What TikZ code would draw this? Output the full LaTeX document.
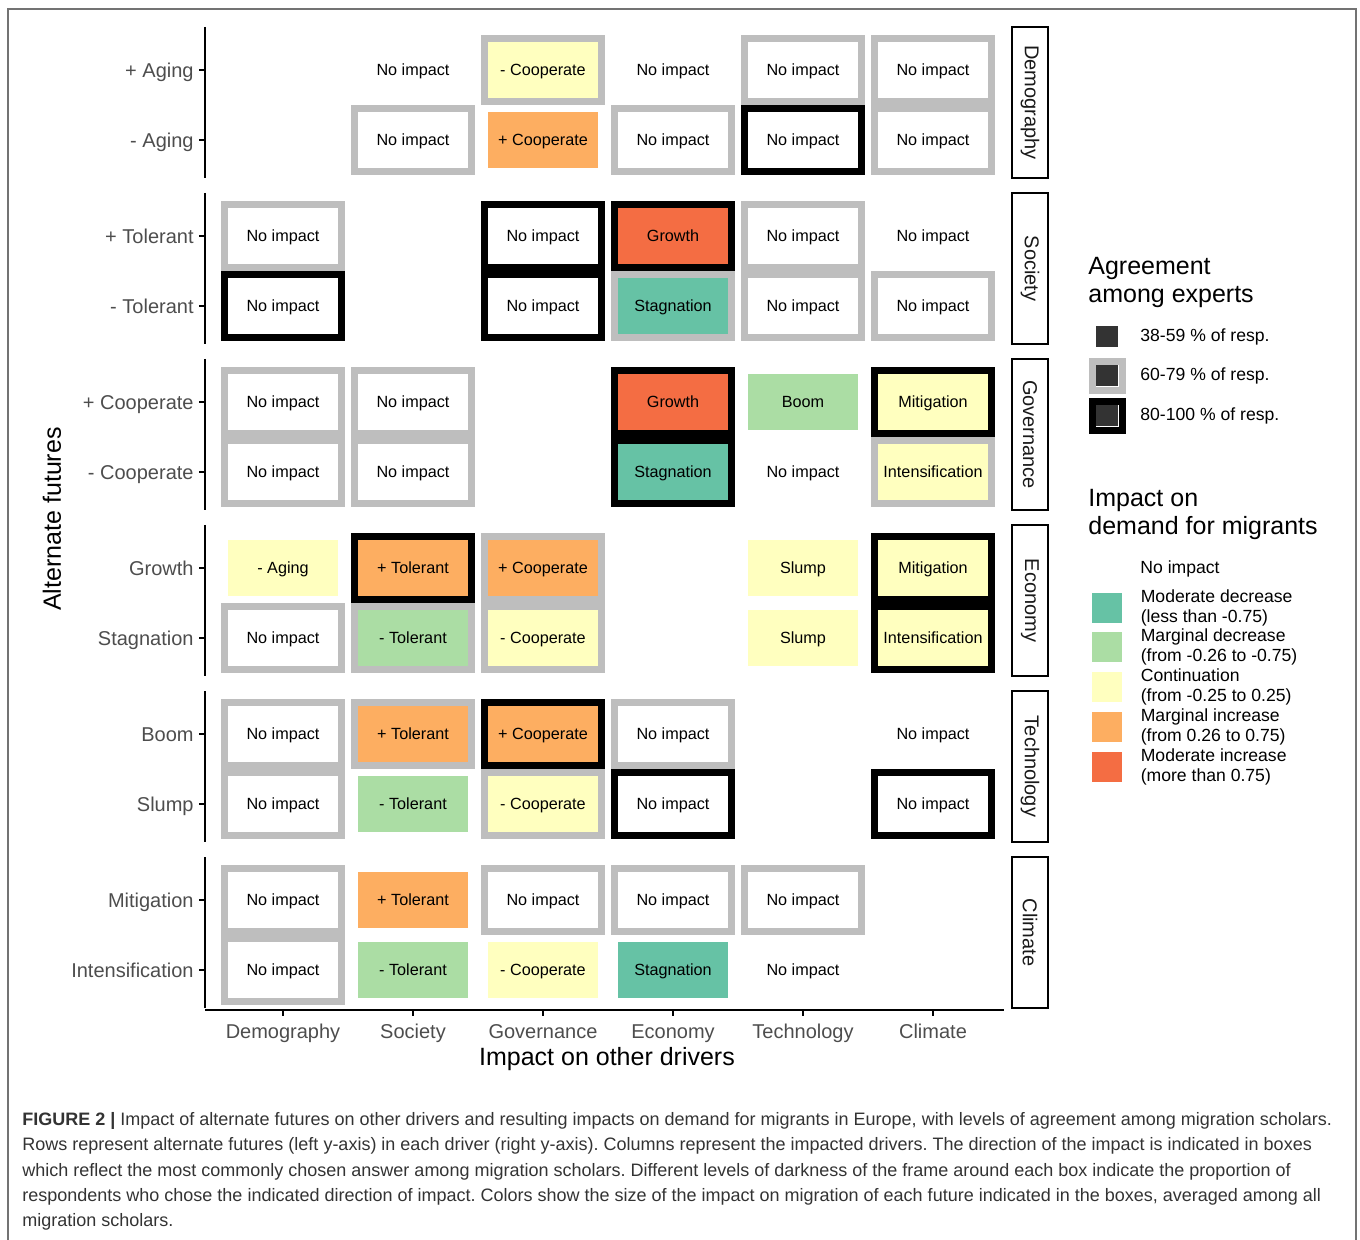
\documentclass[tikz,border=0pt]{standalone}
\usepackage{fontspec}
\setmainfont{Liberation Sans}
\usetikzlibrary{positioning}

\definecolor{modDec}{HTML}{66C2A5}
\definecolor{marDec}{HTML}{ABDDA4}
\definecolor{contin}{HTML}{FFFFBF}
\definecolor{marInc}{HTML}{FDAE61}
\definecolor{modInc}{HTML}{F46D43}
\definecolor{agrMid}{HTML}{BEBEBE}
\definecolor{axisTxt}{HTML}{4D4D4D}
\definecolor{keyDark}{HTML}{333333}

\tikzset{
  cellframe/.style={minimum width=58.5pt, minimum height=31.5pt, line width=3.5pt, inner sep=0pt},
  cellbox/.style={minimum width=55pt, minimum height=28pt, inner sep=0pt, text height=5.8pt, text depth=0pt,
    font=\fontsize{8.1}{9}\selectfont},
  rowlabel/.style={anchor=east, inner sep=0pt, text height=7.2pt, text depth=0pt, text=axisTxt,
    font=\fontsize{10}{12}\selectfont},
  collabel/.style={inner sep=0pt, text height=7.2pt, text depth=0pt, text=axisTxt, font=\fontsize{10}{12}\selectfont},
  axisline/.style={line width=1pt},
  axistick/.style={line width=0.7pt},
  stripbox/.style={draw, line width=0.8pt, rotate=-90, minimum width=75.5pt, minimum height=18pt,
    inner sep=0pt, text=black!90, font=\fontsize{10}{12}\selectfont},
  title/.style={font=\fontsize{12.5}{14}\selectfont, align=left},
  keylabel/.style={font=\fontsize{8.8}{10}\selectfont, align=left},
}

\begin{document}
\begin{tikzpicture}[x=0.5pt, y=-0.5pt]
\useasboundingbox (0,0) rectangle (1360,1240);
\draw[line width=0.8pt, draw=black!55] (8,9) rectangle (1356,1260);

% left axis, one piece per driver
\foreach \drv [count=\p] in {Demography, Society, Governance, Economy, Technology, Climate} {
  \draw[axisline] (205,{27+166*(\p-1)}) -- (205,{178+166*(\p-1)});
  \node[stripbox] (strip\p) at (1030,{102.5+166*(\p-1)}) {\drv};
}

% row labels
\foreach \fut [count=\i from 0] in {+ Aging, - Aging, + Tolerant, - Tolerant, + Cooperate, - Cooperate,
    Growth, Stagnation, Boom, Slump, Mitigation, Intensification} {
  \pgfmathsetmacro{\yy}{70+166*int(\i/2)+70*mod(\i,2)}
  \node[rowlabel] (row\i) at (194,\yy) {\fut};
  \draw[axistick] (199,\yy) -- (205,\yy);
}

% bottom axis
\draw[axisline] (205,1009.5) -- (1004,1009.5);
\foreach \drv [count=\c] in {Demography, Society, Governance, Economy, Technology, Climate} {
  \draw[axistick] ({153+130*\c},1010) -- ({153+130*\c},1016);
  \node[collabel] (col\c) at ({153+130*\c},1031) {\drv};
}
\node[font=\fontsize{12.5}{14}\selectfont] (xtitle) at (607,1059) {Impact on other drivers};
\node[font=\fontsize{12.5}{14}\selectfont, rotate=90] (ytitle) at (52,519) {Alternate futures};

% cells: panel/row/column/text/fill/frame
\foreach \p/\r/\c/\txt/\fc/\fr in {
  1/1/2/No impact/white/none, 1/1/3/- Cooperate/contin/agrMid, 1/1/4/No impact/white/none,
  1/1/5/No impact/white/agrMid, 1/1/6/No impact/white/agrMid,
  1/2/2/No impact/white/agrMid, 1/2/3/+ Cooperate/marInc/none, 1/2/4/No impact/white/agrMid,
  1/2/5/No impact/white/black, 1/2/6/No impact/white/agrMid,
  2/1/1/No impact/white/agrMid, 2/1/3/No impact/white/black, 2/1/4/Growth/modInc/black,
  2/1/5/No impact/white/agrMid, 2/1/6/No impact/white/none,
  2/2/1/No impact/white/black, 2/2/3/No impact/white/black, 2/2/4/Stagnation/modDec/agrMid,
  2/2/5/No impact/white/agrMid, 2/2/6/No impact/white/agrMid,
  3/1/1/No impact/white/agrMid, 3/1/2/No impact/white/agrMid, 3/1/4/Growth/modInc/black,
  3/1/5/Boom/marDec/none, 3/1/6/Mitigation/contin/black,
  3/2/1/No impact/white/agrMid, 3/2/2/No impact/white/agrMid, 3/2/4/Stagnation/modDec/black,
  3/2/5/No impact/white/none, 3/2/6/Intensification/contin/agrMid,
  4/1/1/- Aging/contin/none, 4/1/2/+ Tolerant/marInc/black, 4/1/3/+ Cooperate/marInc/agrMid,
  4/1/5/Slump/contin/none, 4/1/6/Mitigation/contin/black,
  4/2/1/No impact/white/agrMid, 4/2/2/- Tolerant/marDec/agrMid, 4/2/3/- Cooperate/contin/agrMid,
  4/2/5/Slump/contin/none, 4/2/6/Intensification/contin/black,
  5/1/1/No impact/white/agrMid, 5/1/2/+ Tolerant/marInc/agrMid, 5/1/3/+ Cooperate/marInc/black,
  5/1/4/No impact/white/agrMid, 5/1/6/No impact/white/none,
  5/2/1/No impact/white/agrMid, 5/2/2/- Tolerant/marDec/none, 5/2/3/- Cooperate/contin/agrMid,
  5/2/4/No impact/white/black, 5/2/6/No impact/white/black,
  6/1/1/No impact/white/agrMid, 6/1/2/+ Tolerant/marInc/none, 6/1/3/No impact/white/agrMid,
  6/1/4/No impact/white/agrMid, 6/1/5/No impact/white/agrMid,
  6/2/1/No impact/white/agrMid, 6/2/2/- Tolerant/marDec/none, 6/2/3/- Cooperate/contin/none,
  6/2/4/Stagnation/modDec/none, 6/2/5/No impact/white/none} {
  \node[cellframe, draw=\fr] (f-\p-\r-\c) at ({153+130*\c},{166*\p+70*\r-166}) {};
  \node[cellbox, fill=\fc] (c-\p-\r-\c) at (f-\p-\r-\c.center) {\txt};
}

% legend: agreement
\node[title, anchor=north west, inner sep=0pt] (agrtitle) at (1088,257) {Agreement\\among experts};
\node[fill=keyDark, minimum width=11pt, minimum height=10.5pt, inner sep=0pt] (ak1) at (1107,337) {};
\node[cellframe, draw=agrMid, minimum width=15pt, minimum height=14.5pt] (akf2) at (1107,376) {};
\node[fill=keyDark, minimum width=11pt, minimum height=10.5pt, inner sep=0pt] (ak2) at (akf2.center) {};
\node[cellframe, draw=black, minimum width=15pt, minimum height=14.5pt] (akf3) at (1107,416) {};
\node[fill=keyDark, minimum width=11pt, minimum height=10.5pt, inner sep=0pt] (ak3) at (akf3.center) {};
\node[keylabel, anchor=west, inner sep=0pt] (al1) at (1140,337) {38-59 \% of resp.};
\node[keylabel, anchor=west, inner sep=0pt] (al2) at (1140,376) {60-79 \% of resp.};
\node[keylabel, anchor=west, inner sep=0pt] (al3) at (1140,416) {80-100 \% of resp.};

% legend: impact on demand
\node[title, anchor=north west, inner sep=0pt] (imptitle) at (1088,489) {Impact on\\demand for migrants};
\node[keylabel, anchor=west, inner sep=0pt] (cl0) at (1140,569) {No impact};
\foreach \fc/\ta/\tb [count=\k] in {modDec/Moderate decrease/(less than -0.75),
    marDec/Marginal decrease/(from -0.26 to -0.75), contin/Continuation/(from -0.25 to 0.25),
    marInc/Marginal increase/(from 0.26 to 0.75), modInc/Moderate increase/(more than 0.75)} {
  \node[fill=\fc, minimum width=15pt, minimum height=15pt, inner sep=0pt] (ck\k) at (1107,{568+39.7*\k}) {};
  \node[keylabel, inner sep=0pt, right=9pt of ck\k] (cl\k) {\ta\\\tb};
}

% caption
\node[anchor=north west, inner sep=0pt, align=left, text=black!80,
  font=\frenchspacing\fontsize{9}{12.65}\selectfont] (caption) at (22,1112) {%
  \textbf{FIGURE 2 |} Impact of alternate futures on other drivers and resulting impacts on demand for migrants in Europe, with levels of agreement among migration scholars.\\
  Rows represent alternate futures (left y-axis) in each driver (right y-axis). Columns represent the impacted drivers. The direction of the impact is indicated in boxes\\
  which reflect the most commonly chosen answer among migration scholars. Different levels of darkness of the frame around each box indicate the proportion of\\
  respondents who chose the indicated direction of impact. Colors show the size of the impact on migration of each future indicated in the boxes, averaged among all\\
  migration scholars.};
\end{tikzpicture}
\end{document}
